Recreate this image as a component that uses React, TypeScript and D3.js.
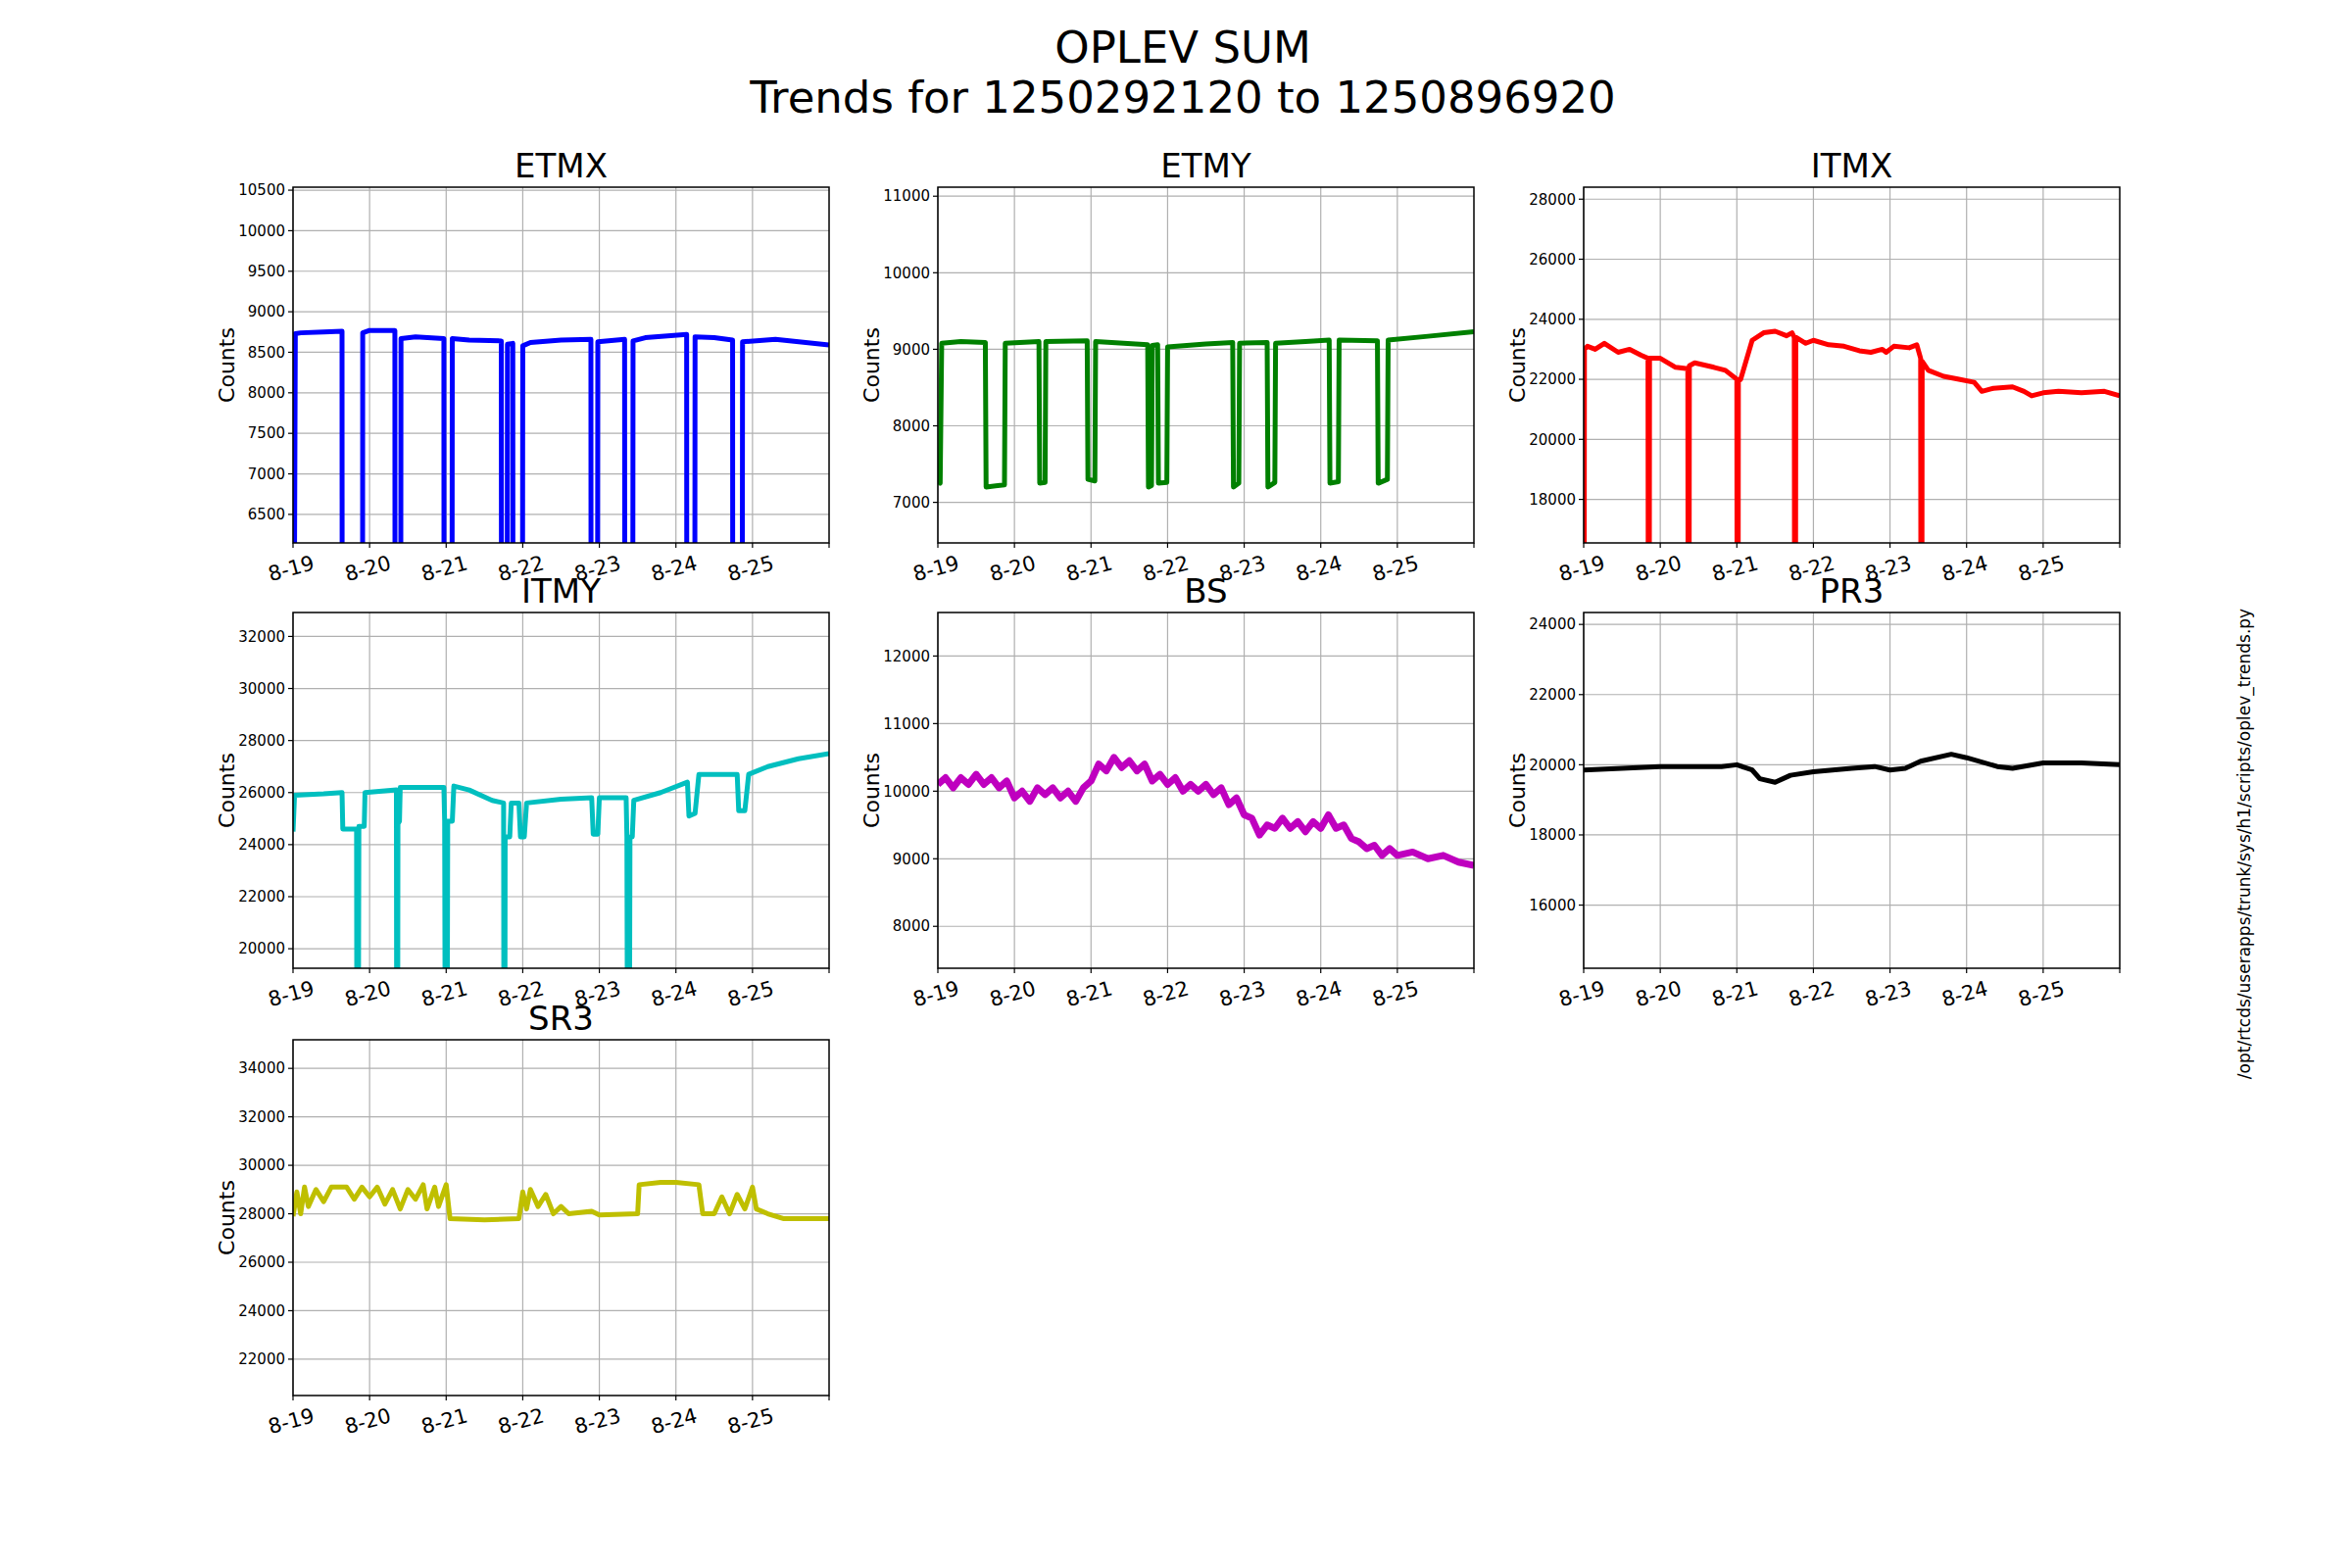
import React from "react";
import * as d3 from "d3";

type P = [number, number];
const LOW = -100000;

const etmx: P[] = [[0,LOW],[0.02,6100],[0.03,8730],[0.1,8740],[0.4,8750],[0.64,8760],[0.65,LOW],[0.9,LOW],[0.91,8740],[1.0,8770],[1.33,8770],[1.34,LOW],[1.39,LOW],[1.41,8670],[1.6,8690],[1.97,8670],[1.98,LOW],[2.06,LOW],[2.08,8670],[2.3,8650],[2.72,8640],[2.73,LOW],[2.78,LOW],[2.8,8600],[2.87,8610],[2.88,LOW],[2.98,LOW],[3.0,8580],[3.1,8620],[3.5,8650],[3.89,8660],[3.9,LOW],[3.96,LOW],[3.98,8630],[4.33,8660],[4.34,LOW],[4.42,LOW],[4.44,8640],[4.6,8680],[5.14,8720],[5.15,LOW],[5.23,LOW],[5.25,8690],[5.5,8680],[5.74,8650],[5.75,LOW],[5.85,LOW],[5.87,8630],[6.3,8660],[7.0,8590]];
const etmy: P[] = [[0,7300],[0.03,7250],[0.05,9080],[0.3,9100],[0.62,9090],[0.63,7200],[0.87,7230],[0.88,9080],[1.32,9100],[1.33,7250],[1.4,7260],[1.41,9100],[1.95,9110],[1.96,7300],[2.05,7280],[2.06,9100],[2.74,9060],[2.75,7200],[2.79,7220],[2.8,9050],[2.87,9060],[2.88,7250],[2.99,7260],[3.0,9030],[3.5,9070],[3.85,9090],[3.86,7200],[3.93,7250],[3.94,9080],[4.3,9090],[4.31,7200],[4.4,7260],[4.41,9080],[4.8,9100],[5.11,9120],[5.12,7250],[5.23,7270],[5.24,9120],[5.74,9110],[5.75,7250],[5.87,7300],[5.88,9120],[6.4,9170],[7.0,9230]];
const itmx: P[] = [[0,LOW],[0.01,23000],[0.05,23100],[0.15,23000],[0.27,23200],[0.45,22900],[0.6,23000],[0.75,22800],[0.84,22700],[0.85,LOW],[0.86,22700],[1.0,22700],[1.2,22400],[1.36,22350],[1.37,LOW],[1.38,22450],[1.45,22550],[1.7,22400],[1.85,22300],[2.0,22000],[2.01,LOW],[2.02,21950],[2.05,22000],[2.2,23300],[2.35,23550],[2.5,23600],[2.65,23450],[2.72,23550],[2.75,23400],[2.76,LOW],[2.77,23400],[2.9,23200],[3.0,23300],[3.2,23150],[3.4,23100],[3.6,22950],[3.75,22900],[3.9,23000],[3.95,22900],[4.05,23100],[4.25,23050],[4.35,23150],[4.4,22700],[4.41,LOW],[4.42,22600],[4.5,22300],[4.7,22100],[4.9,22000],[5.1,21900],[5.2,21600],[5.35,21700],[5.6,21750],[5.75,21600],[5.85,21450],[6.0,21550],[6.2,21600],[6.5,21550],[6.8,21600],[7.0,21450]];
const itmy: P[] = [[0,24500],[0.02,25900],[0.4,25950],[0.64,26000],[0.65,24600],[0.83,24600],[0.84,LOW],[0.86,24700],[0.93,24700],[0.94,26000],[1.35,26100],[1.36,LOW],[1.37,24800],[1.39,24900],[1.4,26200],[1.97,26200],[1.98,24900],[2.0,LOW],[2.02,24900],[2.08,24900],[2.1,26250],[2.3,26100],[2.6,25700],[2.75,25600],[2.76,LOW],[2.77,24300],[2.83,24300],[2.85,25600],[2.95,25600],[2.97,24300],[3.02,24300],[3.05,25600],[3.5,25750],[3.9,25800],[3.92,24400],[3.98,24400],[4.0,25800],[4.35,25800],[4.36,24300],[4.38,LOW],[4.4,24300],[4.43,24300],[4.45,25700],[4.8,26000],[5.15,26400],[5.17,25100],[5.25,25200],[5.3,26700],[5.8,26700],[5.82,25300],[5.9,25300],[5.95,26700],[6.2,27000],[6.6,27300],[7.0,27500]];
const bs: P[] = [[0,10100],[0.1,10200],[0.2,10050],[0.3,10200],[0.4,10100],[0.5,10250],[0.6,10100],[0.7,10200],[0.8,10050],[0.9,10150],[1.0,9900],[1.1,10000],[1.2,9850],[1.3,10050],[1.4,9950],[1.5,10050],[1.6,9900],[1.7,10000],[1.8,9850],[1.9,10050],[2.0,10150],[2.1,10400],[2.2,10300],[2.3,10500],[2.4,10350],[2.5,10450],[2.6,10300],[2.7,10400],[2.8,10150],[2.9,10250],[3.0,10100],[3.1,10200],[3.2,10000],[3.3,10100],[3.4,10000],[3.5,10100],[3.6,9950],[3.7,10050],[3.8,9800],[3.9,9900],[4.0,9650],[4.1,9600],[4.2,9350],[4.3,9500],[4.4,9450],[4.5,9600],[4.6,9450],[4.7,9550],[4.8,9400],[4.9,9550],[5.0,9450],[5.1,9650],[5.2,9450],[5.3,9500],[5.4,9300],[5.5,9250],[5.6,9150],[5.7,9200],[5.8,9050],[5.9,9150],[6.0,9050],[6.2,9100],[6.4,9000],[6.6,9050],[6.8,8950],[7.0,8900]];
const pr3: P[] = [[0,19850],[0.5,19900],[1.0,19950],[1.5,19950],[1.8,19950],[2.0,20000],[2.2,19850],[2.3,19600],[2.5,19500],[2.7,19700],[3.0,19800],[3.5,19900],[3.8,19950],[4.0,19850],[4.2,19900],[4.4,20100],[4.8,20300],[5.0,20200],[5.4,19950],[5.6,19900],[6.0,20050],[6.5,20050],[7.0,20000]];
const sr3: P[] = [[0,27900],[0.05,28900],[0.1,28000],[0.15,29100],[0.2,28300],[0.3,29000],[0.4,28500],[0.5,29100],[0.7,29100],[0.8,28600],[0.9,29100],[1.0,28700],[1.1,29100],[1.2,28400],[1.3,29000],[1.4,28200],[1.5,29000],[1.6,28600],[1.7,29200],[1.75,28200],[1.85,29100],[1.9,28300],[2.0,29200],[2.05,27800],[2.5,27750],[2.95,27800],[3.0,28900],[3.05,28200],[3.1,29000],[3.2,28300],[3.3,28800],[3.4,28000],[3.5,28300],[3.6,28000],[3.9,28100],[4.0,27950],[4.5,28000],[4.52,29200],[4.8,29300],[5.0,29300],[5.3,29200],[5.35,28000],[5.5,28000],[5.6,28700],[5.7,28000],[5.8,28800],[5.9,28200],[6.0,29100],[6.05,28200],[6.2,28000],[6.4,27800],[7.0,27800]];

const dayLabels = ["8-19","8-20","8-21","8-22","8-23","8-24","8-25"];

interface Panel { name: string; data: P[]; color: string; ylim: [number, number]; ticks: number[]; col: number; row: number; width: number; }
const panels: Panel[] = [
  { name: "ETMX", data: etmx, color: "#0000ff", ylim: [6148, 10537], ticks: d3.range(6500, 10501, 500), col: 0, row: 0, width: 5 },
  { name: "ETMY", data: etmy, color: "#008000", ylim: [6470, 11118], ticks: d3.range(7000, 11001, 1000), col: 1, row: 0, width: 5 },
  { name: "ITMX", data: itmx, color: "#ff0000", ylim: [16550, 28400], ticks: d3.range(18000, 28001, 2000), col: 2, row: 0, width: 5 },
  { name: "ITMY", data: itmy, color: "#00bfbf", ylim: [19250, 32920], ticks: d3.range(20000, 32001, 2000), col: 0, row: 1, width: 5 },
  { name: "BS", data: bs, color: "#bf00bf", ylim: [7380, 12644], ticks: d3.range(8000, 12001, 1000), col: 1, row: 1, width: 7 },
  { name: "PR3", data: pr3, color: "#000000", ylim: [14200, 24340], ticks: d3.range(16000, 24001, 2000), col: 2, row: 1, width: 5 },
  { name: "SR3", data: sr3, color: "#bfbf00", ylim: [20500, 35180], ticks: d3.range(22000, 34001, 2000), col: 0, row: 2, width: 5 },
];
const colX = [299, 957, 1616];
const rowY = [191, 625, 1061];
const W = 547, H = 363;
const font = "DejaVu Sans, sans-serif";

function PanelView({ p }: { p: Panel }) {
  const x0 = colX[p.col], y0 = rowY[p.row];
  const x = d3.scaleLinear().domain([0, 7]).range([0, W]);
  const y = d3.scaleLinear().domain(p.ylim).range([H, 0]);
  const line = d3.line<P>().x(d => x(d[0])).y(d => y(Math.max(d[1], p.ylim[0] - 20000)));
  const cid = "clip" + p.name;
  return (
    <g transform={`translate(${x0},${y0})`}>
      <clipPath id={cid}><rect x={0} y={0} width={W} height={H} /></clipPath>
      {d3.range(0, 7).map(i => <line key={"gx"+i} x1={x(i)} x2={x(i)} y1={0} y2={H} stroke="#b0b0b0" strokeWidth={1.2} />)}
      {p.ticks.map(t => <line key={"gy"+t} x1={0} x2={W} y1={y(t)} y2={y(t)} stroke="#b0b0b0" strokeWidth={1.2} />)}
      <path d={line(p.data) || ""} fill="none" stroke={p.color} strokeWidth={p.width} strokeLinejoin="round" clipPath={`url(#${cid})`} />
      <rect x={0} y={0} width={W} height={H} fill="none" stroke="#000" strokeWidth={1.5} />
      {p.ticks.map(t => (
        <g key={"ty"+t} transform={`translate(0,${y(t)})`}>
          <line x1={-5} x2={0} stroke="#000" strokeWidth={1.2} />
          <text x={-8} dy="0.35em" textAnchor="end" fontSize={15} fontFamily={font}>{t}</text>
        </g>
      ))}
      {d3.range(0, 8).map(i => <line key={"tx"+i} x1={x(i)} x2={x(i)} y1={H} y2={H + 5} stroke="#000" strokeWidth={1.2} />)}
      {dayLabels.map((l, i) => (
        <text key={"lx"+i} transform={`translate(${x(i)},${H + 33}) rotate(-15)`} textAnchor="middle" fontSize={21} fontFamily={font}>{l}</text>
      ))}
      <text transform={`translate(-60,${H / 2}) rotate(-90)`} textAnchor="middle" fontSize={22} fontFamily={font}>Counts</text>
      <text x={W / 2} y={-10} textAnchor="middle" fontSize={34} fontFamily={font}>{p.name}</text>
    </g>
  );
}

export default function App() {
  return (
    <svg width={2400} height={1600} style={{ position: "absolute", left: 0, top: 0, background: "#fff" }}>
      <rect width={2400} height={1600} fill="#fff" />
      <text x={1207} y={64} textAnchor="middle" fontSize={45} fontFamily={font}>OPLEV SUM</text>
      <text x={1207} y={115} textAnchor="middle" fontSize={45} fontFamily={font}>Trends for 1250292120 to 1250896920</text>
      {panels.map(p => <PanelView key={p.name} p={p} />)}
      <text transform="translate(2296,861) rotate(-90)" textAnchor="middle" fontSize={17} fontFamily={font}>/opt/rtcds/userapps/trunk/sys/h1/scripts/oplev_trends.py</text>
    </svg>
  );
}
